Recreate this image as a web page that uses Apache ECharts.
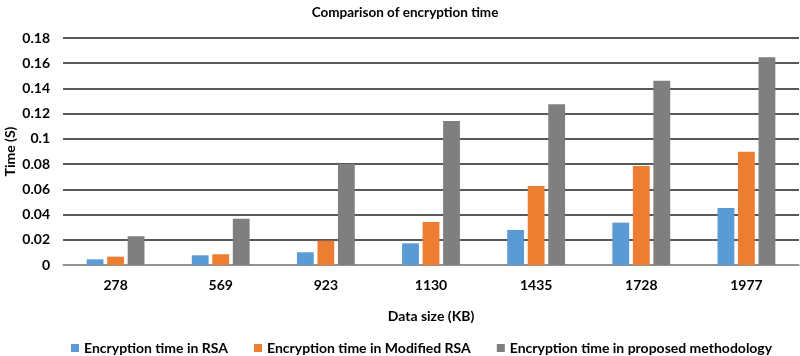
<!DOCTYPE html>
<html>
<head>
<meta charset="utf-8">
<script src="https://cdn.jsdelivr.net/npm/echarts@6/dist/echarts.min.js"></script>
<style>html,body{margin:0;padding:0;background:#fff}#c{width:800px;height:356px}</style>
</head>
<body>
<div id="c"></div>
<script>
const categories = ['278', '569', '923', '1130', '1435', '1728', '1977'];
const rsaTime = [0.0045, 0.0077, 0.0101, 0.0172, 0.0278, 0.0336, 0.0452];
const modifiedRsaTime = [0.0066, 0.0085, 0.0193, 0.0341, 0.0627, 0.0785, 0.0899];
const proposedTime = [0.0228, 0.0367, 0.0800, 0.1142, 0.1274, 0.1462, 0.1647];
const seriesNames = ['Encryption time in RSA', 'Encryption time in Modified RSA', 'Encryption time in proposed methodology'];
const colors = ['#5B9BD5', '#ED7D31', '#7F7F7F'];

const font = 'Lato, "Open Sans", sans-serif';
const chart = echarts.init(document.getElementById('c'), null, {renderer: 'canvas'});
chart.setOption({
  animation: false,
  title: {
    text: 'Comparison of encryption time',
    left: 400, top: 1, textAlign: 'center',
    textStyle: {fontFamily: font, fontSize: 13.5, fontWeight: 'bold', color: '#000'}
  },
  legend: {
    left: 66, top: 336,
    itemWidth: 8, itemHeight: 8, itemGap: 26,
    icon: 'rect',
    textStyle: {fontFamily: font, fontSize: 14, fontWeight: 'bold', color: '#000'},
    data: seriesNames
  },
  grid: {left: 63, right: 1, top: 38, bottom: 91, containLabel: false, outerBoundsMode: 'none'},
  xAxis: {
    type: 'category', data: categories,
    axisTick: {show: false},
    axisLine: {lineStyle: {color: '#A6A6A6', width: 1.5}},
    axisLabel: {fontFamily: font, fontSize: 14, fontWeight: 'bold', color: '#000', margin: 13},
    name: 'Data size (KB)', nameLocation: 'middle', nameGap: 44, nameMoveOverlap: false,
    nameTextStyle: {fontFamily: font, fontSize: 14, fontWeight: 'bold', color: '#000'}
  },
  yAxis: {
    type: 'value', min: 0, max: 0.18, interval: 0.02,
    axisLine: {show: false}, axisTick: {show: false},
    splitLine: {lineStyle: {color: '#222', width: 1.5}},
    axisLabel: {fontFamily: font, fontSize: 14, fontWeight: 'bold', color: '#000', margin: 13,
      formatter: v => (Math.round(v * 100) / 100).toString()},
    name: 'Time (S)', nameLocation: 'middle', nameGap: 46, nameRotate: 90, nameMoveOverlap: false,
    nameTextStyle: {fontFamily: font, fontSize: 14, fontWeight: 'bold', color: '#000'}
  },
  series: [
    {name: seriesNames[0], type: 'bar', data: rsaTime, itemStyle: {color: colors[0]}, barGap: '22%', barCategoryGap: '45%'},
    {name: seriesNames[1], type: 'bar', data: modifiedRsaTime, itemStyle: {color: colors[1]}},
    {name: seriesNames[2], type: 'bar', data: proposedTime, itemStyle: {color: colors[2]}}
  ]
});
</script>
</body>
</html>
